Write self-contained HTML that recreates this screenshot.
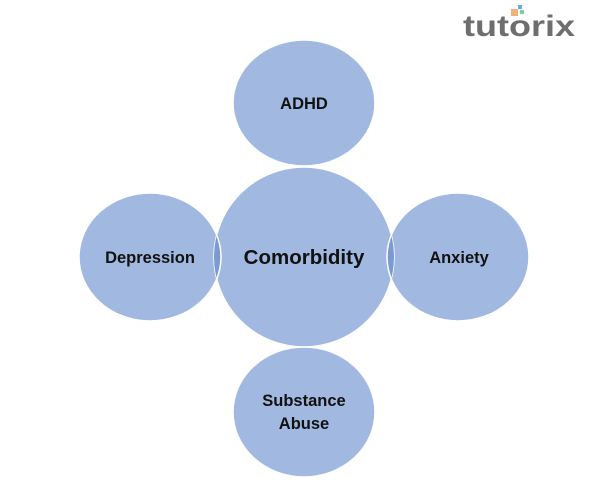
<!DOCTYPE html>
<html><head><style>
html,body{margin:0;padding:0;background:#fff;}
svg{display:block;}
text{font-family:"Liberation Sans",sans-serif;font-weight:bold;fill:#111;}
</style></head><body>
<svg width="600" height="495" viewBox="0 0 600 495" xmlns="http://www.w3.org/2000/svg">
<defs>
<clipPath id="cc"><ellipse cx="304" cy="257" rx="90" ry="90"/></clipPath>
</defs>
<g fill="#a1b8e1" stroke="#fff" stroke-width="1.5">
<ellipse cx="304" cy="103" rx="71" ry="63"/>
<ellipse cx="150" cy="257" rx="71" ry="64"/>
<ellipse cx="458" cy="257" rx="71" ry="64"/>
<ellipse cx="304" cy="412" rx="71" ry="65"/>
<ellipse cx="304" cy="257" rx="90" ry="90"/>
</g>
<g clip-path="url(#cc)" fill="#7b9ad0" stroke="#fff" stroke-width="1.5">
<ellipse cx="304" cy="103" rx="71" ry="63"/>
<ellipse cx="150" cy="257" rx="71" ry="64"/>
<ellipse cx="458" cy="257" rx="71" ry="64"/>
<ellipse cx="304" cy="412" rx="71" ry="65"/>
</g>
<text x="304" y="109" font-size="16.5" text-anchor="middle">ADHD</text>
<text x="150" y="263" font-size="16.5" text-anchor="middle">Depression</text>
<text x="304" y="264" font-size="20.5" text-anchor="middle">Comorbidity</text>
<text x="459" y="263" font-size="16.5" text-anchor="middle">Anxiety</text>
<text x="304" y="406" font-size="16.5" text-anchor="middle">Substance</text>
<text x="304" y="429" font-size="16.5" text-anchor="middle">Abuse</text>
<rect x="511" y="9" width="7" height="7" fill="#f0b27a"/>
<rect x="518" y="5" width="4" height="4" fill="#5dade2"/>
<rect x="520" y="10" width="4" height="4" fill="#7dcea0"/>
<text x="463" y="36" font-size="30" style="fill:#6e6e6e" textLength="112" lengthAdjust="spacingAndGlyphs">tutorix</text>
</svg>
</body></html>
